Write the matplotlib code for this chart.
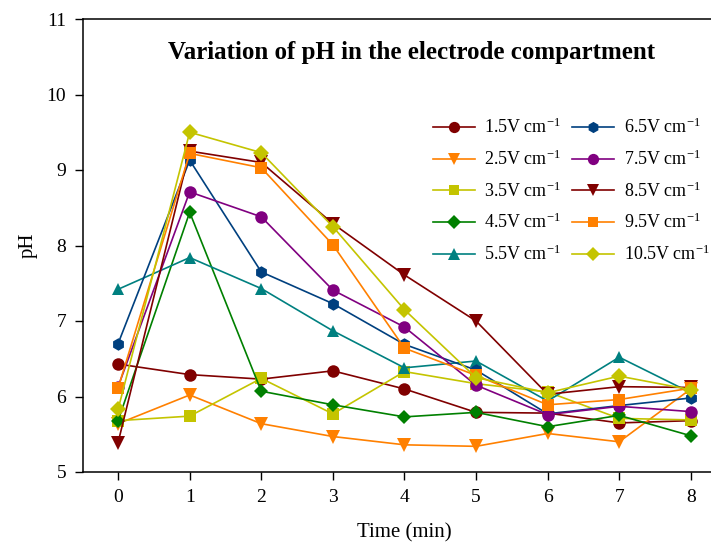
import matplotlib
matplotlib.use("Agg")
import matplotlib.pyplot as plt

plt.rcParams['font.family'] = ['Liberation Serif', 'DejaVu Serif']
plt.rcParams['mathtext.fontset'] = 'custom'
plt.rcParams['mathtext.rm'] = 'Liberation Serif'
plt.rcParams['mathtext.it'] = 'Liberation Serif'

# Time axis (min)
time = [0, 1, 2, 3, 4, 5, 6, 7, 8]

# pH readings for each field strength
ph_1_5 = [6.43, 6.29, 6.23, 6.34, 6.10, 5.79, 5.78, 5.65, 5.68]
ph_2_5 = [5.64, 6.02, 5.64, 5.47, 5.36, 5.34, 5.51, 5.40, 6.10]
ph_3_5 = [5.68, 5.74, 6.24, 5.77, 6.33, 6.17, 6.06, 5.71, 5.69]
ph_4_5 = [5.68, 8.44, 6.07, 5.89, 5.73, 5.79, 5.60, 5.75, 5.48]
ph_5_5 = [7.42, 7.84, 7.43, 6.87, 6.38, 6.47, 5.94, 6.52, 6.05]
ph_6_5 = [6.70, 9.13, 7.65, 7.23, 6.69, 6.35, 5.77, 5.88, 5.98]
ph_7_5 = [6.13, 8.71, 8.38, 7.41, 6.92, 6.15, 5.76, 5.87, 5.80]
ph_8_5 = [5.39, 9.25, 9.10, 8.29, 7.61, 7.00, 6.03, 6.13, 6.12]
ph_9_5 = [6.11, 9.22, 9.03, 8.01, 6.64, 6.28, 5.89, 5.96, 6.11]
ph_10_5 = [5.83, 9.50, 9.23, 8.25, 7.15, 6.25, 6.05, 6.27, 6.09]

labels = ['1.5', '2.5', '3.5', '4.5', '5.5', '6.5', '7.5', '8.5', '9.5', '10.5']
series = [ph_1_5, ph_2_5, ph_3_5, ph_4_5, ph_5_5,
          ph_6_5, ph_7_5, ph_8_5, ph_9_5, ph_10_5]
colors = ['#800000', '#FF8000', '#C4C400', '#008000', '#008080',
          '#00407F', '#800080', '#800000', '#FF8000', '#C4C400']
markers = ['o', 'v', 's', 'D', '^', 'h', 'o', 'v', 's', 'D']
sizes = [9, 9.5, 8.5, 7.5, 9, 9, 9, 9.5, 8.5, 8]

fig = plt.figure(figsize=(7.11, 5.44), dpi=100)
ax_w = (726.6 - 83) / 711
ax = fig.add_axes([83 / 711, 1 - 472 / 544, ax_w, (472 - 19) / 544])

for lab, vals, c, m, s in zip(labels, series, colors, markers, sizes):
    ax.plot(time, vals, color=c, marker=m, markersize=s, linewidth=1.2,
            markeredgewidth=0, label=lab + r'V cm$^{-1}$')

ax.set_xlim(-0.49, 8.5)
ax.set_ylim(5, 11)
ax.set_xticks(time)
ax.set_yticks([5, 6, 7, 8, 9, 10, 11])
ax.tick_params(direction='out', length=6, width=1, labelsize=14, pad=6)
for sp in ax.spines.values():
    sp.set_linewidth(1.1)

ax.set_xlabel('Time (min)', fontsize=15, labelpad=13)
ax.set_ylabel('pH', fontsize=15)
ax.yaxis.set_label_coords(-45 / (726.6 - 83), (472 - 245) / 453)

fig.text(412 / 711, 1 - 52 / 544, 'Variation of pH in the electrode compartment',
         ha='center', va='center', fontsize=18, fontweight='bold')

ax.legend(ncol=2, loc='upper left', bbox_to_anchor=((424 - 83) / (726.6 - 83), (472 - 109) / 453),
          frameon=False, fontsize=13, handlelength=2.3, markerscale=0.9,
          labelspacing=0.68, columnspacing=0.6, handletextpad=0.55, borderpad=0)

fig.savefig('out.png', dpi=100)
